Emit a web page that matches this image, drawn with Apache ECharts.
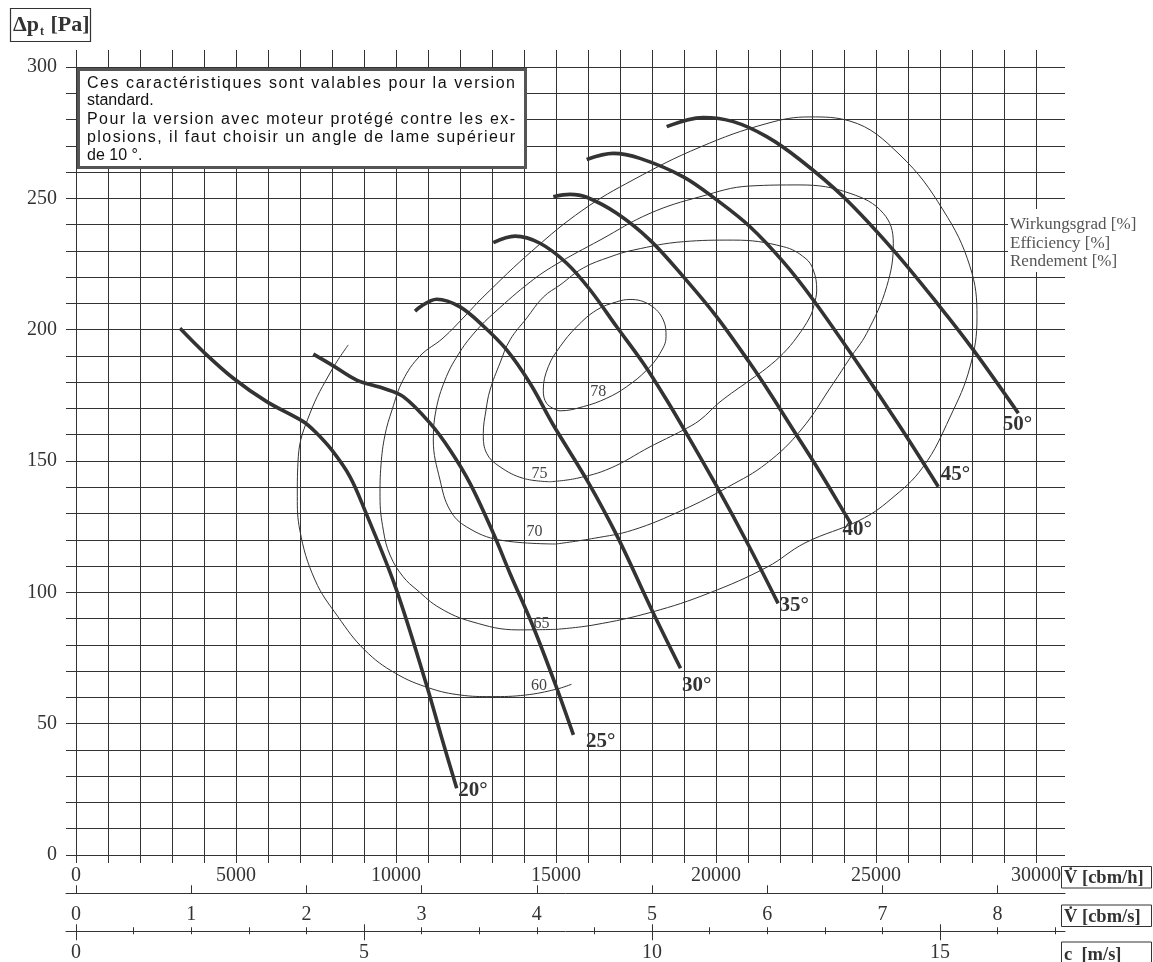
<!DOCTYPE html>
<html>
<head>
<meta charset="utf-8">
<title>Kennlinien</title>
<script src="https://cdn.jsdelivr.net/npm/echarts@6/dist/echarts.min.js"></script>
<style>
  html, body { margin: 0; padding: 0; background: #fff; }
  #chart { width: 1153px; height: 962px; }
</style>
</head>
<body>
<div id="chart"></div>
<script>
// ---- axis ticks -------------------------------------------------------
const flowLabels = [0, 5000, 10000, 15000, 20000, 25000, 30000];      // cbm/h
const pressureLabels = [0, 50, 100, 150, 200, 250, 300];               // Pa
const flowSecTicks = [0, 1, 2, 3, 4, 5, 6, 7, 8];                      // cbm/s
const velocityTicks = [0, 1, 2, 3, 4, 5, 6, 7, 8, 9, 10, 11, 12, 13, 14, 15, 16, 17]; // m/s
const velocityLabels = [0, 5, 10, 15];

// ---- fan characteristics per blade angle: [cbm/h, Pa] ------------------
const blade20 = [[3250, 200.5], [3978, 191.6], [4916, 181.5], [5959, 172.6], [7103, 165.0], [7469, 161.2],
  [7991, 154.2], [8563, 144.0], [9025, 131.3], [9981, 102.1], [10938, 65.4], [11419, 45.0], [11897, 25.4]];
const blade25 = [[7416, 190.7], [7991, 186.6], [8772, 180.8], [9603, 177.7], [10228, 174.5], [11063, 164.4],
  [11688, 154.2], [12313, 141.5], [13041, 122.5], [13563, 107.2], [14288, 86.9], [15006, 64.1], [15544, 45.7]];
const blade30 = [[10594, 207.1], [11272, 211.6], [12000, 208.7], [12728, 201.4], [13459, 192.3], [14188, 179.6],
  [14916, 163.7], [15963, 142.8], [16919, 121.2], [17994, 93.3], [18891, 71.1]];
const blade35 = [[13041, 233.1], [13719, 235.6], [14500, 232.9], [15334, 225.3], [16063, 215.2], [16897, 201.1],
  [17728, 187.2], [18459, 173.2], [19013, 161.8], [20028, 140.2], [20984, 118.7], [21941, 95.8]];
const blade40 = [[14916, 250.6], [15438, 251.5], [15959, 250.4], [16897, 244.3], [17938, 234.1], [18978, 220.2],
  [20022, 204.9], [21063, 187.2], [21688, 175.8], [22416, 161.8], [23147, 147.8], [24084, 128.8], [24219, 126.0]];
const blade45 = [[15959, 264.8], [16791, 267.1], [17625, 265.2], [18978, 258.2], [20022, 249.4], [21063, 239.2],
  [22103, 225.8], [23041, 211.3], [24500, 185.9], [25750, 163.1], [26947, 140.2]];
const blade50 = [[18459, 277.3], [19603, 280.8], [20541, 279.2], [21584, 273.5], [22625, 264.7], [23978, 250.6],
  [25541, 230.3], [27000, 208.7], [28041, 192.3], [29447, 168.2]];

// ---- efficiency iso-lines: [cbm/h, Pa] --------------------------------
const eff60 = [[8509, 194.2], [7991, 184.6], [7313, 168.2], [6947, 151.6], [6916, 136.4], [6994, 123.7],
  [7469, 104.7], [8188, 90.7], [9025, 78.0], [9981, 69.2], [11059, 63.5], [12016, 60.9], [12972, 60.3],
  [14047, 60.9], [15006, 63.1], [15484, 65.0]];
const eff65 = [[15000, 85.9], [13809, 85.7], [12375, 88.8], [11375, 94.0], [10656, 100.9], [10219, 106.0],
  [9813, 114.2], [9603, 123.7], [9500, 136.4], [9531, 148.5], [9656, 159.9], [9875, 169.4], [10219, 180.8],
  [10750, 190.0], [11469, 196.8], [12156, 205.2], [12719, 212.4], [14281, 230.3], [15844, 245.6],
  [17406, 257.0], [19500, 269.5], [21594, 278.5], [22938, 281.0], [24188, 279.4], [25750, 266.5],
  [27094, 245.6], [27938, 224.0], [28156, 204.9], [27938, 185.8], [27313, 166.7], [26469, 147.7],
  [25438, 135.2], [24500, 127.5], [22781, 118.8], [21594, 109.6], [19781, 99.7], [18000, 92.5],
  [16188, 87.6], [15000, 85.9]];
const eff70 = [[15000, 118.4], [13250, 119.9], [12209, 124.9], [11688, 131.3], [11375, 142.8], [11166, 158.0],
  [11250, 169.4], [11531, 180.8], [11938, 190.4], [12469, 199.1], [13094, 206.7], [14188, 218.1],
  [14969, 224.6], [16375, 234.1], [17938, 244.3], [19500, 250.6], [21063, 254.7], [22625, 255.1],
  [24188, 251.9], [25228, 244.3], [25541, 232.9], [25334, 216.4], [24709, 198.6], [24188, 189.2],
  [23666, 179.6], [22656, 161.8], [21581, 149.1], [20388, 140.2], [18953, 131.3], [17397, 123.7],
  [16200, 120.6], [15000, 118.4]];
const eff75 = [[14813, 142.1], [13978, 143.4], [13250, 147.8], [12834, 152.9], [12728, 160.5], [12813, 169.4],
  [12938, 177.0], [13250, 187.3], [13563, 196.1], [14084, 204.4], [14603, 212.4], [15125, 217.0],
  [15853, 223.5], [16688, 227.7], [17416, 230.3], [18978, 233.5], [20541, 234.1], [22103, 231.6],
  [22781, 227.3], [23041, 222.7], [23147, 215.1], [23063, 209.4], [22938, 204.9], [22531, 197.2],
  [22103, 191.0], [21584, 185.4], [21063, 180.8], [20125, 172.5], [19500, 165.6], [18978, 161.8],
  [17938, 155.4], [16688, 147.2], [15647, 143.4], [14813, 142.1]];
const eff78 = [[15022, 169.4], [14709, 171.9], [14603, 177.0], [14759, 185.9], [15125, 193.5], [15647, 201.1],
  [16272, 207.5], [16897, 210.6], [17313, 211.5], [17938, 209.4], [18353, 203.7], [18438, 197.3],
  [18250, 191.0], [17834, 184.6], [17209, 178.3], [16584, 173.9], [15853, 170.7], [15125, 169.1], [15022, 169.4]];

// ---- texts ------------------------------------------------------------
const noteLines = [
  { text: 'Ces caractéristiques sont valables pour la version', justify: true },
  { text: 'standard.', justify: false },
  { text: 'Pour la version avec moteur protégé contre les ex-', justify: true },
  { text: 'plosions, il faut choisir un angle de lame supérieur', justify: true },
  { text: 'de 10 °.', justify: false }
];
const efficiencyTitle = ['Wirkungsgrad [%]', 'Efficiency [%]', 'Rendement [%]'];

// ---- layout & styles -------------------------------------------------
const SERIF = '"Liberation Serif", "Times New Roman", serif';
const SANS = '"Liberation Sans", Arial, sans-serif';
const INK = '#333';
const PLOT = { left: 76, top: 67, width: 960, height: 788 };
const EXT_L = 10, EXT_R = 29;                   // grid lines run past the frame
const X_MAX = 30000, Y_MAX = 300;
const pxPerCbms = PLOT.width / X_MAX * 3600;    // cbm/s scale shares the cbm/h pixels
const DUCT_AREA = 0.5;                          // m², c = V / A
const pxPerMs = pxPerCbms * DUCT_AREA;

const chart = echarts.init(document.getElementById('chart'), null, { renderer: 'canvas' });

function thickCurve(name, data, offset) {
  const end = data[data.length - 1];
  return {
    type: 'line', name, data, xAxisIndex: 0, yAxisIndex: 0,
    smooth: 0.35, symbol: 'none', silent: true, z: 5,
    lineStyle: { color: INK, width: 3.6, cap: 'butt' },
    markPoint: {
      symbol: 'circle', symbolSize: 1, silent: true, animation: false,
      itemStyle: { color: 'rgba(0,0,0,0)' },
      data: [{
        coord: end,
        label: {
          show: true, formatter: name, position: offset, align: 'left', verticalAlign: 'middle',
          fontFamily: SERIF, fontWeight: 'bold', fontSize: 21, color: INK
        }
      }]
    }
  };
}

function isoLine(level, data, anchorIndex, offset) {
  return {
    type: 'line', name: String(level), data, xAxisIndex: 0, yAxisIndex: 0,
    smooth: 0.4, symbol: 'none', silent: true, z: 4,
    lineStyle: { color: INK, width: 1 },
    markPoint: {
      symbol: 'circle', symbolSize: 1, silent: true, animation: false,
      itemStyle: { color: 'rgba(0,0,0,0)' },
      data: [{
        coord: data[anchorIndex],
        label: {
          show: true, formatter: String(level), position: offset, align: 'center', verticalAlign: 'middle',
          fontFamily: SERIF, fontSize: 16, color: '#444'
        }
      }]
    }
  };
}

const axisLabelFont = { fontFamily: SERIF, fontSize: 20, color: INK };
const hidden = { show: false };
const inkLine = { color: INK, width: 1 };

// cbm/s and m/s scales sit in a strip grid that is wider than the plot
const stripMin = (pxPerUnit) => -EXT_L / pxPerUnit;
const stripMax = (pxPerUnit) => (PLOT.width + EXT_R) / pxPerUnit;

function stripAxis(pxPerUnit, offset, extra) {
  return Object.assign({
    type: 'value', gridIndex: 1, position: 'bottom', offset,
    min: stripMin(pxPerUnit), max: stripMax(pxPerUnit),
    axisLine: { show: false, onZero: false, lineStyle: inkLine },
    axisTick: hidden, axisLabel: hidden, splitLine: hidden
  }, extra);
}

// note text, justified by spreading every character gap evenly
const NOTE_SIZE = 16;
const measureCtx = document.createElement('canvas').getContext('2d');
measureCtx.font = NOTE_SIZE + 'px ' + SANS;
const NOTE_X0 = 87, NOTE_X1 = 515;
const NOTE_Y = [83.5, 101, 120, 137.5, 155.5];
function noteGlyph(text, x, y) {
  return { type: 'text', x, y, z: 101,
    style: { text, fontSize: NOTE_SIZE, fontFamily: SANS, fill: '#111', align: 'left', textAlign: 'left',
      verticalAlign: 'middle', textVerticalAlign: 'middle' } };
}
const noteElements = [];
noteLines.forEach((line, i) => {
  if (!line.justify) {
    noteElements.push(noteGlyph(line.text, NOTE_X0, NOTE_Y[i]));
    return;
  }
  const chars = Array.from(line.text);
  const widths = chars.map(c => measureCtx.measureText(c).width);
  const total = widths.reduce((a, b) => a + b, 0);
  const gap = (NOTE_X1 - NOTE_X0 - total) / (chars.length - 1);
  let x = NOTE_X0;
  chars.forEach((c, k) => {
    if (c !== ' ') noteElements.push(noteGlyph(c, x, NOTE_Y[i]));
    x += widths[k] + gap;
  });
});

function unitBox(y, h, text) {
  return [
    { type: 'rect', z: 100, shape: { x: 1061.5, y, width: 90, height: h },
      style: { fill: '#fff', stroke: INK, lineWidth: 1 } },
    { type: 'text', x: 1064, y: y + h / 2 + 1, z: 101,
      style: { text, fontSize: 18.5, fontWeight: 'bold', fontFamily: SERIF, fill: INK, align: 'left', textAlign: 'left',
        verticalAlign: 'middle', textVerticalAlign: 'middle' } }
  ];
}

const graphics = [
  // pressure title
  { type: 'rect', z: 100, shape: { x: 10.5, y: 8.5, width: 80, height: 33 },
    style: { fill: '#fff', stroke: INK, lineWidth: 1.2 } },
  { type: 'text', x: 13, y: 25, z: 101,
    style: {
      text: '{b|Δp}{s|t}{b| [Pa]}', align: 'left', textAlign: 'left', verticalAlign: 'middle', textVerticalAlign: 'middle',
      rich: {
        b: { fontFamily: SERIF, fontWeight: 'bold', fontSize: 22, fill: INK, lineHeight: 26, verticalAlign: 'middle' },
        s: { fontFamily: SERIF, fontWeight: 'bold', fontSize: 12, fill: INK, lineHeight: 26, verticalAlign: 'bottom', padding: [12, 1, 0, 1] }
      }
    } },
  // note box
  { type: 'rect', z: 100, shape: { x: 78.5, y: 69.5, width: 447, height: 98 },
    style: { fill: '#fff', stroke: '#555', lineWidth: 3 } },
  ...noteElements,
  // efficiency legend
  { type: 'rect', z: 100, shape: { x: 1008, y: 209, width: 145, height: 63 },
    style: { fill: '#fff', stroke: null } },
  ...efficiencyTitle.map((t, i) => ({
    type: 'text', x: 1010, y: 225 + i * 18.3, z: 101,
    style: { text: t, fontSize: 17, fontFamily: SERIF, fill: '#555', align: 'left', textAlign: 'left',
      verticalAlign: 'middle', textVerticalAlign: 'middle' }
  })),
  // unit boxes of the three abscissa scales
  ...unitBox(866.5, 21.5, 'V\u0307 [cbm/h]'),
  ...unitBox(905, 21.5, 'V\u0307 [cbm/s]'),
  ...unitBox(942, 24, 'c  [m/s]')
];

const option = {
  animation: false,
  backgroundColor: '#fff',
  grid: [
    { left: PLOT.left, top: PLOT.top, width: PLOT.width, height: PLOT.height, containLabel: false },
    { left: PLOT.left - EXT_L, top: PLOT.top + PLOT.height - 1, width: PLOT.width + EXT_L + EXT_R, height: 1, containLabel: false }
  ],
  xAxis: [
    { // cbm/h
      type: 'value', gridIndex: 0, position: 'bottom', min: 0, max: X_MAX, interval: 1000,
      axisLine: { show: true, onZero: false, lineStyle: inkLine },
      axisTick: { show: true, length: 8, lineStyle: inkLine },
      splitLine: { show: true, lineStyle: inkLine },
      axisLabel: Object.assign({ margin: 11, customValues: flowLabels, formatter: v => String(v) }, axisLabelFont)
    },
    { // upper run-out of the vertical grid lines
      type: 'value', gridIndex: 0, position: 'top', min: 0, max: X_MAX, interval: 1000,
      axisLine: { show: true, onZero: false, lineStyle: inkLine },
      axisTick: { show: true, length: 17, lineStyle: inkLine },
      splitLine: hidden, axisLabel: hidden
    },
    // cbm/s
    stripAxis(pxPerCbms, 39, {
      axisLine: { show: true, onZero: false, lineStyle: inkLine },
      axisTick: { show: true, inside: true, length: 8, customValues: flowSecTicks, lineStyle: inkLine },
      axisLabel: Object.assign({ show: true, margin: 11, customValues: flowSecTicks, formatter: v => String(v) }, axisLabelFont)
    }),
    // m/s : line and minor ticks above
    stripAxis(pxPerMs, 77, {
      axisLine: { show: true, onZero: false, lineStyle: inkLine },
      axisTick: { show: true, inside: true, length: 4, customValues: velocityTicks, lineStyle: inkLine }
    }),
    // m/s : minor ticks below
    stripAxis(pxPerMs, 77, {
      axisTick: { show: true, length: 3, customValues: velocityTicks, lineStyle: inkLine }
    }),
    // m/s : major ticks above
    stripAxis(pxPerMs, 77, {
      axisTick: { show: true, inside: true, length: 7, customValues: velocityLabels, lineStyle: inkLine }
    }),
    // m/s : major ticks below with labels
    stripAxis(pxPerMs, 77, {
      axisTick: { show: true, length: 9, customValues: velocityLabels, lineStyle: inkLine },
      axisLabel: Object.assign({ show: true, margin: 11, customValues: velocityLabels, formatter: v => String(v) }, axisLabelFont)
    })
  ],
  yAxis: [
    {
      type: 'value', gridIndex: 0, position: 'left', min: 0, max: Y_MAX, interval: 10,
      axisLine: { show: true, onZero: false, lineStyle: inkLine },
      axisTick: { show: true, length: EXT_L, lineStyle: inkLine },
      splitLine: { show: true, lineStyle: inkLine },
      axisLabel: Object.assign({ margin: 19, customValues: pressureLabels, formatter: v => String(v) }, axisLabelFont)
    },
    {
      type: 'value', gridIndex: 0, position: 'right', min: 0, max: Y_MAX, interval: 10,
      axisLine: { show: true, onZero: false, lineStyle: inkLine },
      axisTick: { show: true, length: EXT_R, lineStyle: inkLine },
      splitLine: hidden, axisLabel: hidden
    },
    { type: 'value', gridIndex: 1, min: 0, max: 1, show: false }
  ],
  series: [
    isoLine(60, eff60, 13, [14, -9]),
    isoLine(65, eff65, 0, [-14, -5]),
    isoLine(70, eff70, 0, [-21, -12]),
    isoLine(75, eff75, 0, [-10, -7]),
    isoLine(78, eff78, 15, [-8, -6]),
    thickCurve('20°', blade20, [2, 3]),
    thickCurve('25°', blade25, [13, 7]),
    thickCurve('30°', blade30, [2, 18]),
    thickCurve('35°', blade35, [2, 3]),
    thickCurve('40°', blade40, [-8, 6]),
    thickCurve('45°', blade45, [3, -12]),
    thickCurve('50°', blade50, [-15, 12])
  ],
  graphic: graphics
};

chart.setOption(option);
</script>
</body>
</html>
